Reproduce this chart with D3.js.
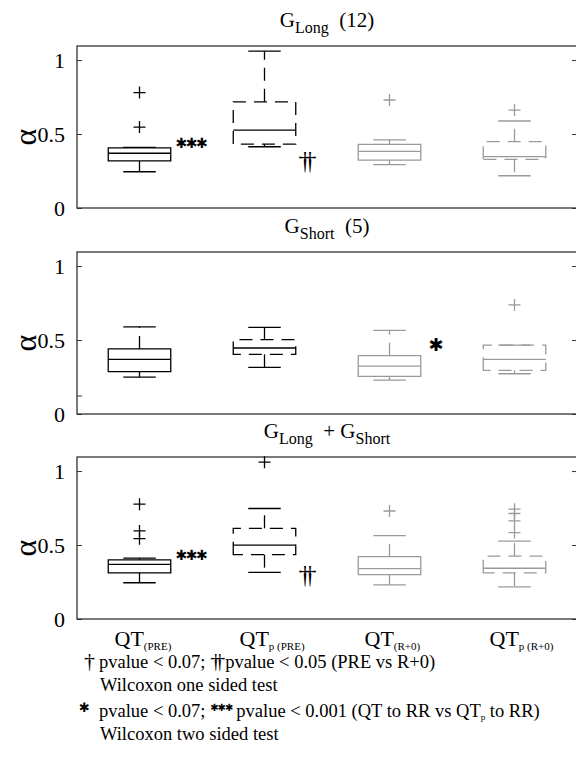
<!DOCTYPE html>
<html>
<head>
<meta charset="utf-8">
<script src="https://cdn.jsdelivr.net/npm/d3@7"></script>
<style>
  body { margin: 0; background: #fff; }
  svg { display: block; font-family: "Liberation Serif", "Times New Roman", serif; }
</style>
</head>
<body>
<div id="chart"></div>
<script>
// categories and tick labels
const categories = ["QT(PRE)", "QTp(PRE)", "QT(R+0)", "QTp(R+0)"];
const tickMain = ["QT", "QT", "QT", "QT"];
const tickSub = ["(PRE)", "p (PRE)", "(R+0)", "p (R+0)"];
const yTicks = [0, 0.5, 1];

// box stats: [lower whisker, q1, median, q3, upper whisker]
const longStats = [[0.245, 0.318, 0.37, 0.407, 0.41], [0.414, 0.432, 0.527, 0.718, 1.06], [0.293, 0.324, 0.383, 0.43, 0.46], [0.218, 0.329, 0.347, 0.448, 0.588]];
const longOutliers = [[0.78, 0.547], [], [0.73], [0.662]];

const shortStats = [[0.249, 0.286, 0.369, 0.44, 0.589], [0.315, 0.403, 0.446, 0.503, 0.585], [0.229, 0.254, 0.324, 0.394, 0.565], [0.272, 0.295, 0.369, 0.465, 0.465]];
const shortOutliers = [[], [], [], [0.737]];

const allStats = [[0.245, 0.312, 0.369, 0.40, 0.411], [0.315, 0.435, 0.50, 0.613, 0.747], [0.23, 0.30, 0.341, 0.421, 0.563], [0.217, 0.312, 0.343, 0.425, 0.527]];
const allOutliers = [[0.776, 0.595, 0.543], [1.06], [0.73], [0.742, 0.713, 0.663, 0.584]];

// significance marks: category index, kind, value level
const longMarks = [{ cat: 0, kind: "star3", value: 0.44 }, { cat: 1, kind: "dagger2", value: 0.265 }];
const shortMarks = [{ cat: 2, kind: "star1", value: 0.47 }];
const allMarks = [{ cat: 0, kind: "star3", value: 0.43 }, { cat: 1, kind: "dagger2", value: 0.246 }];

const panels = [
  { title: [["G", 0], ["Long", 1], ["  (12)", 0]], stats: longStats, outliers: longOutliers, marks: longMarks, top: 46, extraTicks: [] },
  { title: [["G", 0], ["Short", 1], ["  (5)", 0]], stats: shortStats, outliers: shortOutliers, marks: shortMarks, top: 252, extraTicks: [0.125] },
  { title: [["G", 0], ["Long", 1], ["  + G", 0], ["Short", 1]], stats: allStats, outliers: allOutliers, marks: allMarks, top: 457, extraTicks: [] }
];

const W = 576, H = 758;
const left = 77, plotW = 500, plotH = 162;
const black = "#000", gray = "#9a9a9a", axisColor = "#333";
const dash = "13,8";
const serif = "Liberation Serif, Times New Roman, serif";

const svg = d3.select("#chart").append("svg")
  .attr("width", W)
  .attr("height", H);

const x = d3.scaleBand()
  .domain(categories)
  .range([left, left + plotW])
  .padding(0);
const boxW = x.bandwidth() * 0.5;
const capW = boxW * 0.52;

panels.forEach((p, pi) => {
  const y = d3.scaleLinear().domain([0, 1.095]).range([p.top + plotH, p.top]);
  const g = svg.append("g");

  // title
  const t = g.append("text")
    .attr("x", left + plotW / 2)
    .attr("y", p.top - 19)
    .attr("text-anchor", "middle")
    .attr("font-size", 21);
  p.title.forEach(([s, sub], k) => {
    t.append("tspan")
      .attr("font-size", sub ? 16 : 21)
      .attr("dy", sub ? 6 : (k > 0 ? -6 : 0))
      .style("white-space", "pre")
      .text(s);
  });

  // y label
  g.append("text")
    .attr("transform", `translate(36, ${p.top + plotH / 2 + 10}) rotate(-90)`)
    .attr("text-anchor", "middle")
    .attr("font-size", 32)
    .text("α");

  // axes
  const yAxis = d3.axisLeft(y)
    .tickValues(yTicks.concat(p.extraTicks))
    .tickFormat(d => yTicks.includes(d) ? d3.format("~g")(d) : "")
    .tickSizeInner(-5)
    .tickSizeOuter(0)
    .tickPadding(12);
  const ga = g.append("g").attr("transform", `translate(${left},0)`).call(yAxis);
  ga.attr("font-family", null);
  ga.select(".domain").remove();
  ga.selectAll("line").attr("stroke", axisColor);
  ga.selectAll("text").attr("font-size", 22).style("font-family", serif).attr("fill", "#000");

  const yAxisR = d3.axisRight(y).tickValues(yTicks).tickFormat("").tickSizeInner(-5).tickSizeOuter(0);
  const gr = g.append("g").attr("transform", `translate(${left + plotW},0)`).call(yAxisR);
  gr.select(".domain").remove();
  gr.selectAll("line").attr("stroke", axisColor);

  g.append("rect")
    .attr("x", left).attr("y", p.top)
    .attr("width", plotW).attr("height", plotH)
    .attr("fill", "none")
    .attr("stroke", axisColor)
    .attr("stroke-width", 1.3);

  // boxes
  categories.forEach((c, i) => {
    const s = p.stats[i];
    const cx = x(c) + x.bandwidth() / 2;
    const color = i < 2 ? black : gray;
    const boxDash = i % 2 === 1 ? dash : null;
    const bg = g.append("g").attr("stroke", color).attr("stroke-width", 1.3).attr("fill", "none");

    // whiskers
    bg.append("line").attr("x1", cx).attr("x2", cx).attr("y1", y(s[3])).attr("y2", y(s[4])).attr("stroke-dasharray", dash);
    bg.append("line").attr("x1", cx).attr("x2", cx).attr("y1", y(s[1])).attr("y2", y(s[0])).attr("stroke-dasharray", dash);
    // caps
    [s[0], s[4]].forEach(v => {
      bg.append("line").attr("x1", cx - capW / 2).attr("x2", cx + capW / 2).attr("y1", y(v)).attr("y2", y(v));
    });
    // box
    bg.append("path")
      .attr("d", `M${cx - boxW / 2},${y(s[1])}V${y(s[3])}H${cx + boxW / 2}V${y(s[1])}Z`)
      .attr("stroke-dasharray", boxDash);
    // median
    bg.append("line").attr("x1", cx - boxW / 2).attr("x2", cx + boxW / 2).attr("y1", y(s[2])).attr("y2", y(s[2]));
    // outliers
    p.outliers[i].forEach(v => {
      bg.append("path").attr("d", `M${cx - 6},${y(v)}H${cx + 6}M${cx},${y(v) - 6}V${y(v) + 6}`);
    });
  });

  // significance marks
  p.marks.forEach(m => {
    const cx = x(categories[m.cat]) + x.bandwidth() / 2;
    if (m.kind === "star3") {
      g.append("text").attr("x", cx + 36).attr("y", y(m.value))
        .attr("dominant-baseline", "central")
        .attr("font-family", "DejaVu Sans").attr("font-size", 14).attr("font-weight", "bold")
        .attr("letter-spacing", -1.5)
        .text("✱✱✱");
    } else if (m.kind === "star1") {
      g.append("text").attr("x", cx + 39).attr("y", y(m.value))
        .attr("dominant-baseline", "central")
        .attr("font-family", "DejaVu Sans").attr("font-size", 18).attr("font-weight", "bold")
        .text("✱");
    } else {
      g.append("text").attr("x", cx + 34).attr("y", y(m.value))
        .attr("font-size", 26)
        .attr("letter-spacing", -8)
        .text("††");
    }
  });

  // x tick labels on last panel
  if (pi === panels.length - 1) {
    categories.forEach((c, i) => {
      const cx = x(c) + x.bandwidth() / 2;
      const tt = g.append("text").attr("x", cx - 25).attr("y", p.top + plotH + 27).attr("font-size", 22);
      tt.append("tspan").text(tickMain[i]);
      tt.append("tspan").attr("font-size", 11).attr("dy", 4).style("white-space", "pre").text(tickSub[i]);
    });
  }
});

// legend notes
const notes = svg.append("g").attr("font-size", 18.5);
notes.append("text").attr("x", 84).attr("y", 668).attr("font-size", 22).text("†");
const l1 = notes.append("text").attr("x", 99).attr("y", 668);
l1.append("tspan").text("pvalue < 0.07;  ");
l1.append("tspan").attr("font-size", 22).attr("letter-spacing", -7).text("††");
l1.append("tspan").attr("dx", 7).text("pvalue < 0.05 (PRE vs R+0)");
notes.append("text").attr("x", 100).attr("y", 691).text("Wilcoxon one sided test");

notes.append("text").attr("x", 79).attr("y", 712).attr("font-family", "DejaVu Sans").attr("font-weight", "bold").attr("font-size", 13).text("✱");
const l3 = notes.append("text").attr("x", 99).attr("y", 717);
l3.append("tspan").text("pvalue < 0.07; ");
l3.append("tspan").attr("font-family", "DejaVu Sans").attr("font-weight", "bold").attr("font-size", 10).attr("dy", -6).attr("letter-spacing", -1).text("✱✱✱");
l3.append("tspan").attr("dy", 6).attr("dx", 4).text("pvalue < 0.001 (QT to RR vs QT");
l3.append("tspan").attr("font-size", 9).attr("dy", 3).text("p");
l3.append("tspan").attr("dy", -3).text(" to RR)");
notes.append("text").attr("x", 100).attr("y", 740).text("Wilcoxon two sided test");
</script>
</body>
</html>
